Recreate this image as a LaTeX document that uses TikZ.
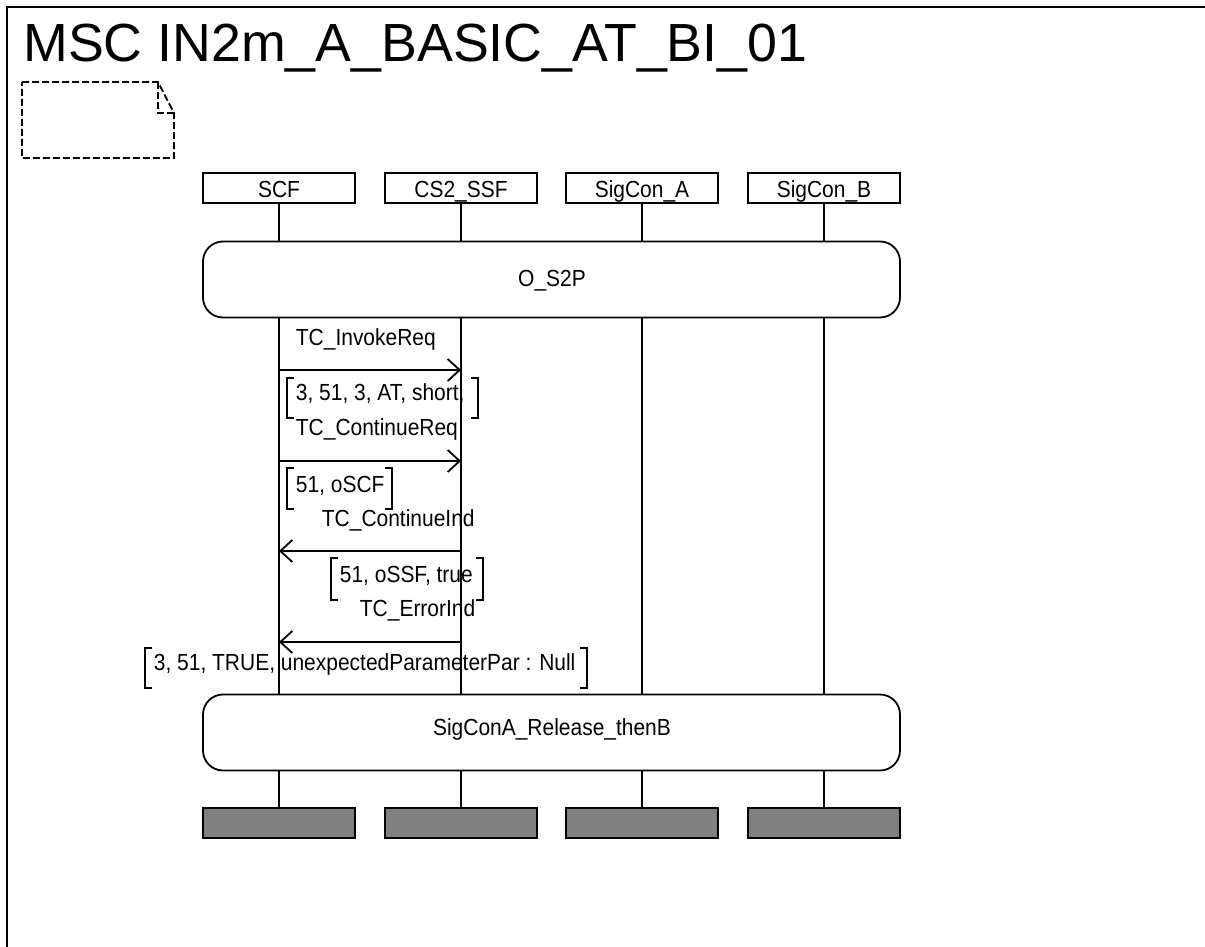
\documentclass[tikz,border=0pt]{standalone}
\usepackage{fontspec}
\setmainfont{Liberation Sans}
\newfontfamily\lbfont{Liberation Sans}[FakeStretch=0.9]
\usetikzlibrary{arrows.meta}
\begin{document}
\begin{tikzpicture}[x=1pt,y=-1pt,
  line width=1.8pt,
  txt/.style={font=\lbfont\fontsize{23.3}{28}\selectfont, inner sep=0pt},
  lbl/.style={txt, anchor=base west},
  ctr/.style={txt, anchor=base},
  headbox/.style={draw, rectangle, minimum width=152pt, minimum height=30pt, inner sep=0pt, text height=18pt, text depth=0pt, font=\lbfont\fontsize{23.3}{28}\selectfont},
  endbox/.style={draw, rectangle, fill={rgb,255:red,128;green,128;blue,128}, minimum width=152pt, minimum height=30pt, inner sep=0pt},
  refbox/.style={draw, rectangle, rounded corners=20pt, minimum width=697pt, minimum height=76pt, inner sep=0pt},
  msg/.style={-{Straight Barb[length=12pt,width=22pt]}},
  brk/.style={line width=1.8pt}
]
\useasboundingbox (0,0) rectangle (1205,947);
% frame
\draw[line width=2.5pt] (7,947) -- (7,7) -- (1205,7);
\node[anchor=base west, inner sep=0pt, font=\fontsize{53.7}{60}\selectfont] (title) at (22.5,62) {MSC IN2m\_A\_BASIC\_AT\_BI\_01};
% note
\draw[dash pattern=on 7pt off 3pt] (22,82) -- (158,82) -- (174,113) -- (174,158) -- (22,158) -- cycle;
\draw[dash pattern=on 7pt off 3pt] (158,82) -- (158,113) -- (174,113);
% heads
\node[headbox] (hA) at (279,188) {SCF};
\node[headbox] (hB) at (461,188) {CS2\_SSF};
\node[headbox] (hC) at (642,188) {SigCon\_A};
\node[headbox] (hD) at (824,188) {SigCon\_B};
% references
\node[refbox] (r1) at (551.5,279.5) {};
\node[ctr] (r1t) at (552,286) {O\_S2P};
\node[refbox] (r2) at (551.5,732.5) {};
\node[ctr] (r2t) at (552,735) {SigConA\_Release\_thenB};
% end boxes
\node[endbox] (eA) at (279,823) {};
\node[endbox] (eB) at (461,823) {};
\node[endbox] (eC) at (642,823) {};
\node[endbox] (eD) at (824,823) {};
% lifelines
\foreach \h/\e in {hA/eA,hB/eB,hC/eC,hD/eD}{
  \draw (\h.south) -- (\h.south |- r1.north);
  \draw (\h.south |- r1.south) -- (\h.south |- r2.north);
  \draw (\h.south |- r2.south) -- (\e.north);
}
% message points
\coordinate (m1a) at (279,370); \coordinate (m1b) at (461,370);
\coordinate (m2a) at (279,461); \coordinate (m2b) at (461,461);
\coordinate (m3a) at (461,551); \coordinate (m3b) at (279,551);
\coordinate (m4a) at (461,642); \coordinate (m4b) at (279,642);
% messages
\node[lbl] (t1) at (295,345) {TC\_InvokeReq};
\draw[msg] (m1a) -- (m1b);
\draw[brk] (294,378) -- (287,378) -- (287,418) -- (294,418);
\draw[brk] (471,378) -- (478,378) -- (478,418) -- (471,418);
\node[lbl] (p1) at (295,400) {3, 51, 3, AT, short,};

\node[lbl] (t2) at (295,435) {TC\_ContinueReq};
\draw[msg] (m2a) -- (m2b);
\draw[brk] (294,468) -- (287,468) -- (287,509) -- (294,509);
\draw[brk] (385,468) -- (392,468) -- (392,509) -- (385,509);
\node[lbl] (p2) at (295,492) {51, oSCF};

\node[lbl] (t3) at (321,526) {TC\_ContinueInd};
\draw[msg] (m3a) -- (m3b);
\draw[brk] (338,558) -- (331,558) -- (331,600) -- (338,600);
\draw[brk] (476,558) -- (483,558) -- (483,600) -- (476,600);
\node[lbl] (p3) at (339,582) {51, oSSF, true};

\node[lbl] (t4) at (359,616) {TC\_ErrorInd};
\draw[msg] (m4a) -- (m4b);
\draw[brk] (152,648) -- (145,648) -- (145,688) -- (152,688);
\draw[brk] (580,648) -- (587,648) -- (587,688) -- (580,688);
\node[lbl] (p4) at (153,670) {3, 51, TRUE, unexpectedParameterPar : Null};
\end{tikzpicture}
\end{document}
